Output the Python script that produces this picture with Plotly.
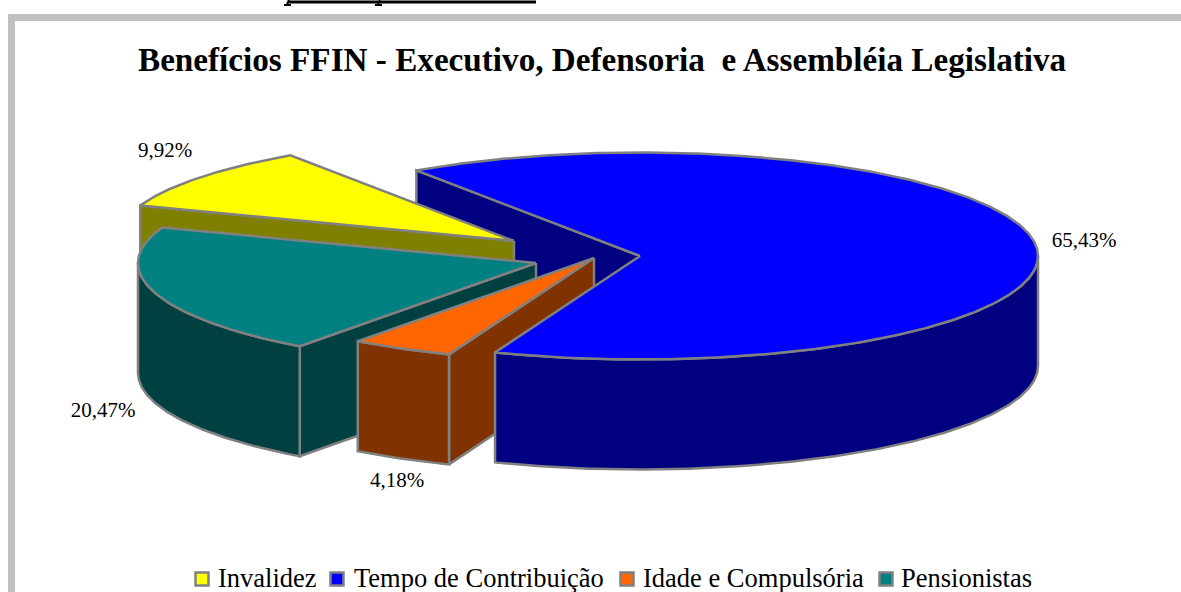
import math
import plotly.graph_objects as go

categories = ["Invalidez", "Tempo de Contribuição", "Idade e Compulsória", "Pensionistas"]
values = [9.92, 65.43, 4.18, 20.47]
value_labels = ["9,92%", "65,43%", "4,18%", "20,47%"]
title_text = "Benefícios FFIN - Executivo, Defensoria  e Assembléia Legislativa"

top_colors = ["#FFFF00", "#0000FF", "#FF6600", "#008080"]
side_colors = ["#808000", "#000080", "#803300", "#004040"]
EDGE = "#808080"
SERIF = "Liberation Serif, Times New Roman, serif"

W, H = 1181, 592
RX, RY, DEPTH = 398, 103.5, 110
START = -69.9
apex = [(514, 241), (640, 256), (594, 258), (536, 263)]
label_pos = [(165, 152), (1084, 242), (397, 482), (103, 412)]
legend_marks = [202, 337, 627, 886]
legend_text = [218, 354, 643, 901]
LEG_Y = 580

total = sum(values)
angles = [START]
for v in values:
    angles.append(angles[-1] + v / total * 360)


def pt(c, a, dz=0):
    r = math.radians(a)
    return c[0] + RX * math.sin(r), c[1] - RY * math.cos(r) + dz


def arc(c, a0, a1, dz=0):
    n = max(2, int(abs(a1 - a0) * 2))
    return [pt(c, a0 + (a1 - a0) * i / n, dz) for i in range(n + 1)]


fig = go.Figure()


def poly(points, fill):
    xs = [p[0] for p in points] + [points[0][0]]
    ys = [p[1] for p in points] + [points[0][1]]
    fig.add_trace(go.Scatter(x=xs, y=ys, mode="lines", fill="toself", fillcolor=fill,
                             line=dict(color=EDGE, width=2.5), hoverinfo="skip", showlegend=False))


def top(i):
    poly([apex[i]] + arc(apex[i], angles[i], angles[i + 1]), top_colors[i])


def wall(i, a):
    c = apex[i]
    poly([c, pt(c, a), pt(c, a, DEPTH), (c[0], c[1] + DEPTH)], side_colors[i])


def rim(i):
    a0, a1 = max(angles[i], 90), min(angles[i + 1], 270)
    if a1 > a0:
        poly(arc(apex[i], a0, a1) + arc(apex[i], a1, a0, DEPTH), side_colors[i])


# back wall of the large slice
wall(1, angles[1])
# Invalidez
wall(0, angles[0])
top(0)
# Pensionistas
wall(3, angles[3])
rim(3)
top(3)
# Idade e Compulsória
wall(2, angles[2])
rim(2)
top(2)
# front of the large slice
rim(1)
top(1)

# value labels
for txt, (x, y) in zip(value_labels, label_pos):
    fig.add_trace(go.Scatter(x=[x], y=[y], mode="text", text=[txt], textposition="middle center",
                             textfont=dict(family=SERIF, size=21, color="black"),
                             hoverinfo="skip", showlegend=False))

# legend
for name, col, mx, tx in zip(categories, top_colors, legend_marks, legend_text):
    fig.add_trace(go.Scatter(x=[mx], y=[579], mode="markers",
                             marker=dict(symbol="square", size=13, color=col, line=dict(color=EDGE, width=2.5)),
                             hoverinfo="skip", showlegend=False))
    fig.add_trace(go.Scatter(x=[tx], y=[LEG_Y], mode="text", text=[name], textposition="middle right",
                             textfont=dict(family=SERIF, size=26.5, color="black"),
                             hoverinfo="skip", showlegend=False))

# cropped underline and descender stubs from the page above the chart
for xs, ys in (([288, 536], [2, 2]), ([289, 287], [0, 4]), ([380, 378], [0, 4]),
               ([284, 291], [5, 5]), ([375, 382], [5, 5])):
    fig.add_trace(go.Scatter(x=xs, y=ys, mode="lines", line=dict(color="black", width=3 if len(set(ys)) == 1 and ys[0] == 2 else 2),
                             hoverinfo="skip", showlegend=False))

fig.add_shape(type="rect", x0=11.5, y0=17.5, x1=W + 40, y1=H + 40,
              line=dict(color="#C0C0C0", width=7), fillcolor="rgba(0,0,0,0)", layer="below")

fig.add_annotation(x=602, y=59, text="<b>%s</b>" % title_text.replace("  ", "&nbsp; "), showarrow=False,
                   xanchor="center", yanchor="middle", font=dict(family=SERIF, size=33.2, color="black"))

fig.update_layout(
    width=W, height=H, margin=dict(l=0, r=0, t=0, b=0),
    paper_bgcolor="white", plot_bgcolor="white", showlegend=False,
    xaxis=dict(range=[0, W], visible=False, fixedrange=True),
    yaxis=dict(range=[H, 0], visible=False, fixedrange=True),
)
fig.write_html("out.html", config=dict(displayModeBar=False, responsive=False),
               post_script="document.body.style.margin='0';document.body.style.overflow='hidden';")
